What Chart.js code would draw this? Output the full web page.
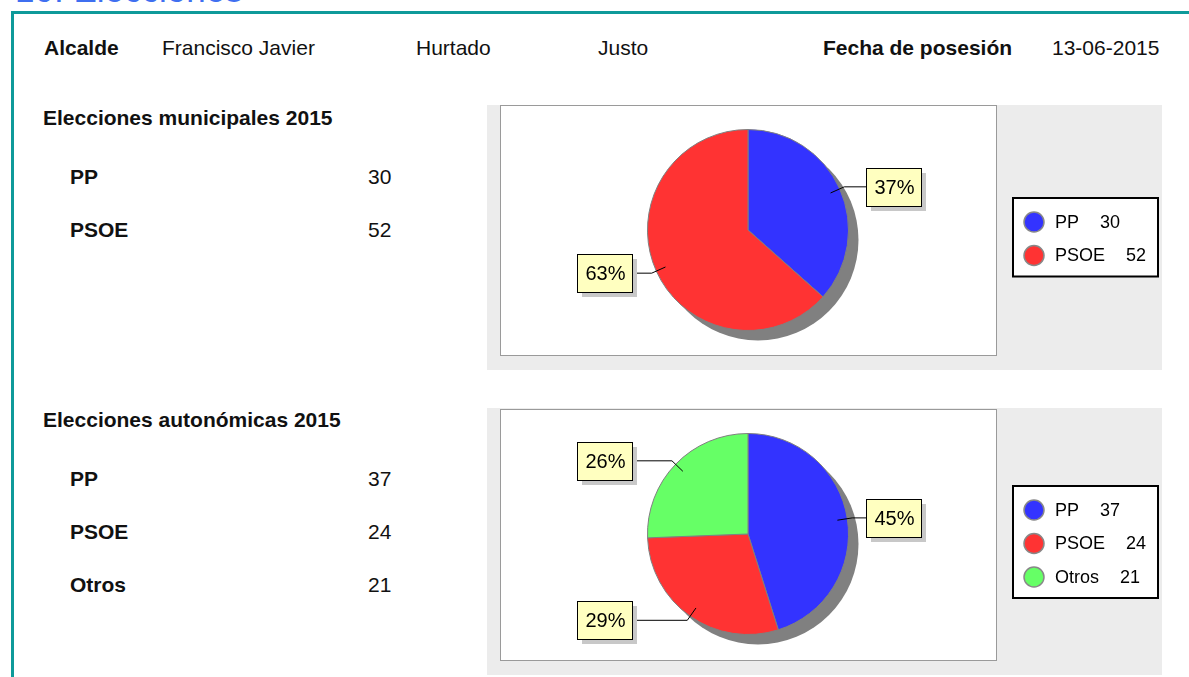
<!DOCTYPE html>
<html>
<head>
<meta charset="utf-8">
<script src="https://cdn.jsdelivr.net/npm/chart.js@4"></script>
<style>
  body { margin: 0; background: #fff; font-family: "Liberation Sans", Arial, sans-serif; color: #111; }
  #page { position: relative; width: 1189px; height: 677px; overflow: hidden; }
  .t { position: absolute; font-size: 21px; line-height: 24px; white-space: nowrap; }
  .b { font-weight: bold; }
  #title { position: absolute; left: 15px; top: -30px; font-size: 35px; line-height: 40px; color: #3f6ff0; white-space: nowrap; }
  #frame { position: absolute; left: 11px; top: 11px; width: 1200px; height: 700px; border-top: 3px solid #0e9a9a; border-left: 3px solid #0e9a9a; }
  canvas { position: absolute; }
</style>
</head>
<body>
<div id="page">
  <div id="title">10. Elecciones</div>
  <div id="frame"></div>

  <div class="t b" style="left:44px;top:36px">Alcalde</div>
  <div class="t" style="left:162px;top:36px">Francisco Javier</div>
  <div class="t" style="left:416px;top:36px">Hurtado</div>
  <div class="t" style="left:598px;top:36px">Justo</div>
  <div class="t b" style="left:823px;top:36px">Fecha de posesión</div>
  <div class="t" style="left:1052px;top:36px">13-06-2015</div>

  <div class="t b" style="left:43px;top:106px">Elecciones municipales 2015</div>
  <div id="list1"></div>
  <div class="t b" style="left:43px;top:408px">Elecciones autonómicas 2015</div>
  <div id="list2"></div>

  <canvas id="chart1" width="675" height="265" style="left:487px;top:105px"></canvas>
  <canvas id="chart2" width="675" height="267" style="left:487px;top:408px"></canvas>
</div>

<script>
// Elecciones municipales 2015
const municipalParties = ['PP', 'PSOE'];
const municipalVotes = [30, 52];

// Elecciones autonómicas 2015
const autonomicParties = ['PP', 'PSOE', 'Otros'];
const autonomicVotes = [37, 24, 21];

const partyColors = { PP: '#3333ff', PSOE: '#ff3333', Otros: '#66ff66' };

// lista de la izquierda
function fillList(id, parties, votes, firstTop) {
  const el = document.getElementById(id);
  parties.forEach((p, i) => {
    const top = firstTop + i * 53;
    el.insertAdjacentHTML('beforeend',
      '<div class="t b" style="left:70px;top:' + top + 'px">' + p + '</div>' +
      '<div class="t" style="left:368px;top:' + top + 'px">' + votes[i] + '</div>');
  });
}
fillList('list1', municipalParties, municipalVotes, 165);
fillList('list2', autonomicParties, autonomicVotes, 467);

// fondo, sombra, etiquetas y leyenda
const pieDecor = {
  id: 'pieDecor',
  beforeDraw(chart, args, opts) {
    const ctx = chart.ctx;
    ctx.save();
    ctx.fillStyle = '#ececec';
    ctx.fillRect(0, 0, chart.width, chart.height);
    ctx.fillStyle = '#ffffff';
    ctx.fillRect(13, opts.boxTop, 496, opts.boxHeight);
    ctx.strokeStyle = '#9a9a9a';
    ctx.lineWidth = 1;
    ctx.strokeRect(13.5, opts.boxTop + 0.5, 496, opts.boxHeight);
    ctx.restore();
  },
  beforeDatasetsDraw(chart) {
    const arc = chart.getDatasetMeta(0).data[0];
    const ctx = chart.ctx;
    ctx.save();
    ctx.fillStyle = '#808080';
    ctx.beginPath();
    ctx.arc(arc.x + 10, arc.y + 10, arc.outerRadius, 0, Math.PI * 2);
    ctx.fill();
    ctx.restore();
  },
  afterDatasetsDraw(chart) {
    const ctx = chart.ctx;
    const data = chart.data.datasets[0].data;
    const total = data.reduce((a, b) => a + b, 0);
    ctx.save();
    chart.getDatasetMeta(0).data.forEach((arc, i) => {
      const mid = (arc.startAngle + arc.endAngle) / 2;
      const r = arc.outerRadius;
      const ax = arc.x + Math.cos(mid) * r * 0.9, ay = arc.y + Math.sin(mid) * r * 0.9;
      const ex = arc.x + Math.cos(mid) * r * 1.05, ey = arc.y + Math.sin(mid) * r * 1.05;
      const right = Math.cos(mid) >= 0;
      const w = 55, h = 38;
      const bx = right ? arc.x + 118 : arc.x - 116 - w;
      const by = Math.round(ey - h / 2);
      ctx.strokeStyle = '#000';
      ctx.lineWidth = 1;
      ctx.beginPath();
      ctx.moveTo(ax, ay);
      ctx.lineTo(ex, ey);
      ctx.lineTo(right ? bx : bx + w, ey);
      ctx.stroke();
      ctx.fillStyle = '#c8c8c8';
      ctx.fillRect(bx + 5, by + 5, w, h);
      ctx.fillStyle = '#ffffc0';
      ctx.fillRect(bx, by, w, h);
      ctx.strokeRect(bx + 0.5, by + 0.5, w, h);
      ctx.fillStyle = '#000';
      ctx.font = '20px "Liberation Sans", Arial, sans-serif';
      ctx.textAlign = 'center';
      ctx.textBaseline = 'middle';
      ctx.fillText(Math.round(data[i] / total * 100) + '%', bx + w / 2 + 1, by + h / 2 + 1);
    });
    ctx.restore();
  },
  afterDraw(chart, args, opts) {
    const ctx = chart.ctx;
    const labels = chart.data.labels;
    const ds = chart.data.datasets[0];
    const x = 526, top = opts.legendTop, step = 33.5;
    const hgt = 23 + (labels.length - 1) * step + 22;
    ctx.save();
    ctx.fillStyle = '#fff';
    ctx.fillRect(x, top, 145, hgt);
    ctx.strokeStyle = '#000';
    ctx.lineWidth = 2;
    ctx.strokeRect(x, top, 145, hgt);
    ctx.font = '18px "Liberation Sans", Arial, sans-serif';
    ctx.textBaseline = 'middle';
    labels.forEach((l, i) => {
      const cy = top + 24 + i * step;
      ctx.beginPath();
      ctx.arc(x + 21, cy, 10, 0, Math.PI * 2);
      ctx.fillStyle = ds.backgroundColor[i];
      ctx.fill();
      ctx.lineWidth = 1.5;
      ctx.strokeStyle = '#888';
      ctx.stroke();
      ctx.fillStyle = '#000';
      ctx.fillText(l, x + 42, cy + 1);
      const tw = ctx.measureText(l).width;
      ctx.fillText(String(ds.data[i]), x + 42 + tw + 21, cy + 1);
    });
    ctx.restore();
  }
};

function makePie(id, parties, votes, padding, decor) {
  return new Chart(document.getElementById(id), {
    type: 'pie',
    data: {
      labels: parties,
      datasets: [{
        data: votes,
        backgroundColor: parties.map(p => partyColors[p]),
        borderColor: '#808080',
        borderWidth: 1
      }]
    },
    options: {
      responsive: false,
      animation: false,
      devicePixelRatio: 1,
      layout: { padding: padding },
      plugins: {
        legend: { display: false },
        tooltip: { enabled: false },
        pieDecor: decor
      }
    },
    plugins: [pieDecor]
  });
}

makePie('chart1', municipalParties, municipalVotes,
  { left: 160, top: 24, right: 313, bottom: 39 },
  { boxTop: 0, boxHeight: 250, legendTop: 93 });
makePie('chart2', autonomicParties, autonomicVotes,
  { left: 160, top: 25, right: 313, bottom: 40 },
  { boxTop: 1, boxHeight: 251, legendTop: 78 });
</script>
</body>
</html>
